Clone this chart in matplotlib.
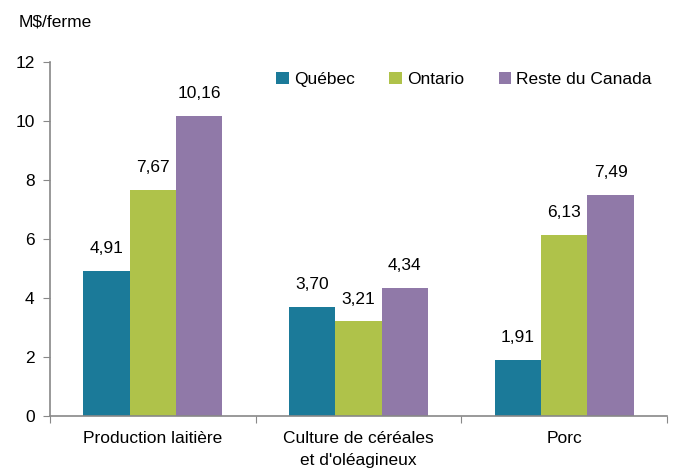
import matplotlib
matplotlib.use("Agg")
import matplotlib.pyplot as plt
import numpy as np

plt.rcParams['font.family'] = ['Liberation Sans', 'DejaVu Sans']

categories = ["Production laitière", "Culture de céréales\net d'oléagineux", "Porc"]
series = ["Québec", "Ontario", "Reste du Canada"]
quebec = [4.91, 3.70, 1.91]
ontario = [7.67, 3.21, 6.13]
reste = [10.16, 4.34, 7.49]
colors = ["#1b7a99", "#afc24a", "#9079a8"]

fig = plt.figure(figsize=(6.73, 4.73), dpi=100)
ax = fig.add_axes([0.0743, 0.1205, 0.917, 0.7485])

x = np.arange(len(categories))
w = 0.225
for i, (vals, name, col) in enumerate(zip([quebec, ontario, reste], series, colors)):
    pos = x + (i - 1) * w
    ax.bar(pos, vals, width=w, color=col, label=name)
    for p, v in zip(pos, vals):
        ax.text(p, v + 0.5, f"{v:.2f}".replace(".", ","), ha="center", va="bottom", fontsize=12.5)

ax.set_xlim(-0.5, len(categories) - 0.5)
ax.set_ylim(0, 12)
ax.set_yticks(range(0, 13, 2))
ax.set_xticks(np.arange(-0.5, len(categories), 1.0))
ax.set_xticklabels([])
ax.set_xticks(x, minor=True)
ax.set_xticklabels(categories, minor=True, fontsize=12.5, linespacing=1.55)
ax.tick_params(axis="x", which="minor", length=0, pad=11)
ax.tick_params(axis="x", which="major", length=5, color="#888888", direction="out")
ax.tick_params(axis="y", length=5, color="#888888", labelsize=12.5, pad=6)

for s in ["top", "right"]:
    ax.spines[s].set_visible(False)
for s in ["left", "bottom"]:
    ax.spines[s].set_color("#888888")
    ax.spines[s].set_linewidth(1.2)

fig.text(0.027, 0.953, "M$/ferme", fontsize=12.5, ha="left", va="center")

ax.legend(loc="upper right", bbox_to_anchor=(1.0, 1.015), ncol=3, frameon=False,
          fontsize=12.5, handlelength=0.7, handleheight=0.7, handletextpad=0.3,
          columnspacing=2.0)

fig.savefig("out.png", dpi=100)
